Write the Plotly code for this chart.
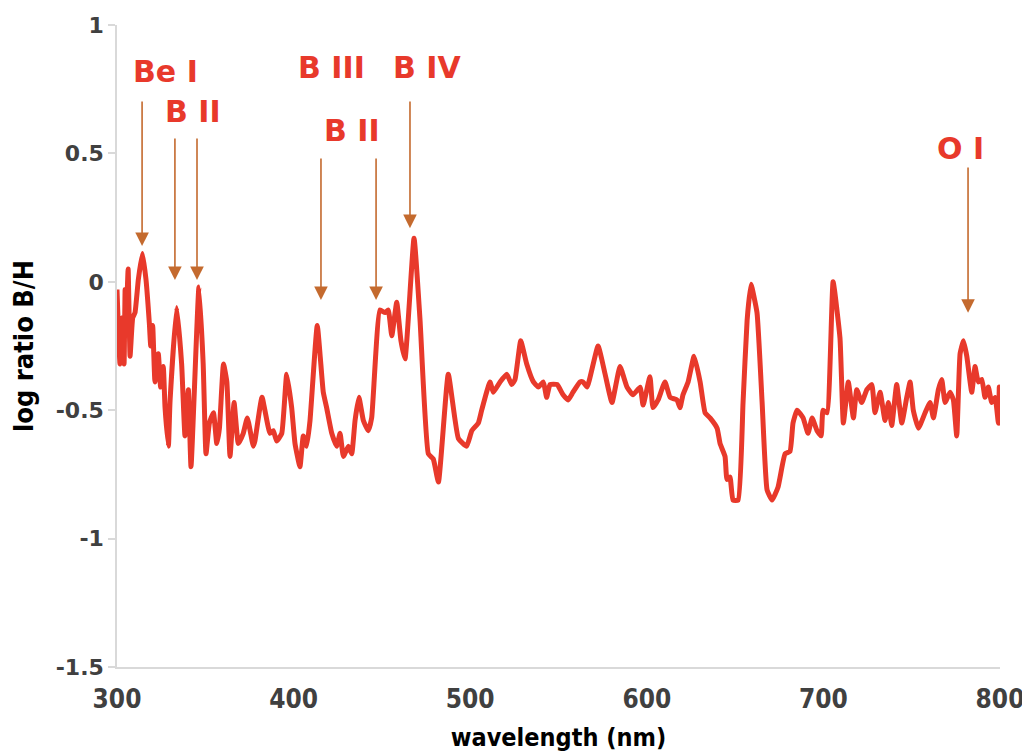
import plotly.graph_objects as go

wavelength = [
    300.0, 301.7, 303.0, 304.0, 304.6, 305.1, 306.3, 307.4, 308.9, 310.2, 312.1, 314.4, 316.4, 318.3, 319.1,
    320.2, 321.5, 323.4, 324.7, 326.2, 327.2, 329.1, 330.0, 333.8, 336.6, 338.5, 340.4, 341.9, 346.4, 348.8,
    350.4, 352.3, 354.6, 356.5, 358.0, 360.3, 362.2, 364.0, 366.3, 368.7, 371.5, 373.8, 377.2, 378.1, 382.1,
    386.6, 388.5, 390.4, 393.3, 396.1, 398.9, 400.8, 403.6, 405.5, 407.4, 409.3, 413.4, 416.8, 418.7, 421.6,
    424.4, 426.3, 428.2, 431.0, 432.9, 434.8, 437.0, 439.5, 442.3, 444.2, 448.9, 451.8, 453.6, 455.6, 458.4,
    460.8, 463.1, 468.2, 471.6, 476.3, 479.1, 482.0, 487.6, 493.3, 498.0, 500.9, 504.6, 506.5, 511.2, 513.1,
    516.9, 520.7, 523.5, 525.4, 528.6, 532.0, 535.8, 538.6, 541.4, 543.3, 545.2, 549.2, 552.6, 555.4, 558.2,
    562.2, 563.9, 566.2, 572.4, 576.4, 580.3, 584.8, 588.8, 592.2, 596.2, 597.9, 601.8, 603.5, 606.4, 610.3,
    613.2, 617.1, 618.8, 620.5, 623.4, 626.8, 630.2, 633.0, 635.8, 639.8, 641.5, 644.3, 645.4, 647.1, 648.8,
    651.7, 654.5, 656.8, 659.0, 662.4, 665.3, 668.1, 670.9, 674.3, 678.3, 681.1, 682.8, 685.1, 688.5, 691.3,
    693.6, 696.4, 698.7, 699.8, 702.1, 705.5, 709.4, 711.3, 714.1, 717.0, 718.9, 721.7, 724.6, 727.4, 729.2,
    732.1, 734.9, 736.8, 738.7, 741.5, 744.4, 747.2, 749.1, 750.9, 753.8, 757.6, 760.4, 762.3, 765.1, 767.0,
    768.9, 771.7, 773.6, 775.5, 777.4, 779.3, 781.2, 784.0, 785.9, 787.7, 789.7, 791.5, 793.4, 795.3, 797.2,
    799.1, 799.6, 800.0,
]

log_ratio = [
    -0.03, -0.32, -0.14, -0.32, -0.03, -0.17, 0.05, -0.29, -0.14, -0.12, 0.01, 0.11, 0.01, -0.16, -0.25,
    -0.17, -0.39, -0.28, -0.41, -0.33, -0.49, -0.64, -0.47, -0.10, -0.32, -0.60, -0.42, -0.72, -0.02, -0.32,
    -0.67, -0.55, -0.51, -0.63, -0.57, -0.32, -0.39, -0.68, -0.47, -0.63, -0.59, -0.53, -0.64, -0.62, -0.45,
    -0.59, -0.58, -0.62, -0.59, -0.36, -0.49, -0.63, -0.72, -0.60, -0.64, -0.54, -0.17, -0.43, -0.49, -0.59,
    -0.64, -0.59, -0.68, -0.64, -0.67, -0.54, -0.45, -0.54, -0.58, -0.53, -0.11, -0.12, -0.11, -0.21, -0.08,
    -0.23, -0.30, 0.17, -0.15, -0.67, -0.69, -0.78, -0.36, -0.61, -0.64, -0.58, -0.55, -0.50, -0.39, -0.43,
    -0.39, -0.36, -0.40, -0.38, -0.23, -0.32, -0.39, -0.41, -0.39, -0.45, -0.40, -0.40, -0.44, -0.46, -0.43,
    -0.39, -0.39, -0.41, -0.25, -0.36, -0.47, -0.33, -0.41, -0.44, -0.41, -0.48, -0.37, -0.49, -0.46, -0.39,
    -0.45, -0.46, -0.49, -0.44, -0.39, -0.29, -0.39, -0.51, -0.53, -0.57, -0.63, -0.68, -0.77, -0.76, -0.85,
    -0.85, -0.47, -0.15, -0.01, -0.12, -0.47, -0.81, -0.85, -0.80, -0.67, -0.66, -0.55, -0.50, -0.53, -0.59,
    -0.53, -0.58, -0.60, -0.50, -0.51, 0.00, -0.22, -0.55, -0.39, -0.53, -0.42, -0.47, -0.42, -0.40, -0.51,
    -0.43, -0.54, -0.47, -0.56, -0.40, -0.55, -0.45, -0.39, -0.50, -0.57, -0.51, -0.47, -0.53, -0.42, -0.38,
    -0.47, -0.43, -0.46, -0.60, -0.28, -0.23, -0.29, -0.43, -0.33, -0.39, -0.38, -0.45, -0.41, -0.47, -0.45,
    -0.55, -0.41, -0.56,
]

# line identifications: label text and where it sits
label_text = ["Be I", "B II", "B III", "B IV", "B II", "O I"]
label_x = [327.2, 343.0, 421.2, 475.5, 433.1, 777.9]
label_y = [0.817, 0.665, 0.836, 0.836, 0.591, 0.521]

# arrows: head (x, y) and tail (y)
arrow_x = [314.2, 332.8, 345.3, 415.5, 446.7, 465.9, 781.9]
arrow_head_y = [0.139, 0.007, 0.007, -0.071, -0.071, 0.209, -0.121]
arrow_tail_y = [0.708, 0.564, 0.564, 0.486, 0.486, 0.708, 0.451]

RED = "#E8392B"
ARROW = "#C46A2E"
AXISGRAY = "#D9D9D9"
TEXTGRAY = "#404040"
HEAVY = "DejaVu Sans, Liberation Sans, sans-serif"
NARROW = "Liberation Sans Narrow, DejaVu Sans Condensed, Liberation Sans, sans-serif"

fig = go.Figure()
fig.add_trace(go.Scatter(
    x=wavelength, y=log_ratio, mode="lines",
    line=dict(color=RED, width=5, shape="spline", smoothing=0.4),
    showlegend=False, hoverinfo="skip",
))

annotations = []
for xh, yh, yt in zip(arrow_x, arrow_head_y, arrow_tail_y):
    annotations.append(dict(
        x=xh, y=yh, ax=xh, ay=yt, xref="x", yref="y", axref="x", ayref="y",
        text="", showarrow=True, arrowhead=2, arrowsize=1.7, arrowwidth=1.6,
        arrowcolor=ARROW,
    ))
for t, x, y in zip(label_text, label_x, label_y):
    annotations.append(dict(
        x=x, y=y, xref="x", yref="y", text=t, showarrow=False,
        font=dict(family=HEAVY, size=30, color=RED, weight="bold"),
        xanchor="center", yanchor="middle",
    ))

fig.update_layout(
    width=1022, height=744,
    margin=dict(l=109, r=30, t=17, b=85),
    paper_bgcolor="white", plot_bgcolor="white",
    annotations=annotations,
    xaxis=dict(
        range=[300, 800], tickvals=[300, 400, 500, 600, 700, 800],
        automargin=False,
        showgrid=False, zeroline=False, showline=True, linecolor=AXISGRAY, linewidth=1.5,
        ticks="", ticklabelstandoff=8,
        tickfont=dict(family=NARROW, size=26, color=TEXTGRAY, weight="bold"),
        title=dict(text="wavelength (nm)", standoff=18,
                   font=dict(family=NARROW, size=25, color="black", weight="bold")),
    ),
    yaxis=dict(
        range=[-1.5, 1], tickvals=[-1.5, -1, -0.5, 0, 0.5, 1],
        ticktext=["-1.5", "-1", "-0.5", "0", "0.5", "1"],
        automargin=False,
        showgrid=False, zeroline=False, showline=True, linecolor=AXISGRAY, linewidth=1.5,
        ticks="outside", ticklen=7, tickcolor=AXISGRAY, tickwidth=1.5,
        tickfont=dict(family=HEAVY, size=22, color=TEXTGRAY, weight="bold"),
        title=dict(text="log ratio B/H", standoff=22,
                   font=dict(family=NARROW, size=27, color="black", weight="bold")),
    ),
)

fig.write_html("out.html")
